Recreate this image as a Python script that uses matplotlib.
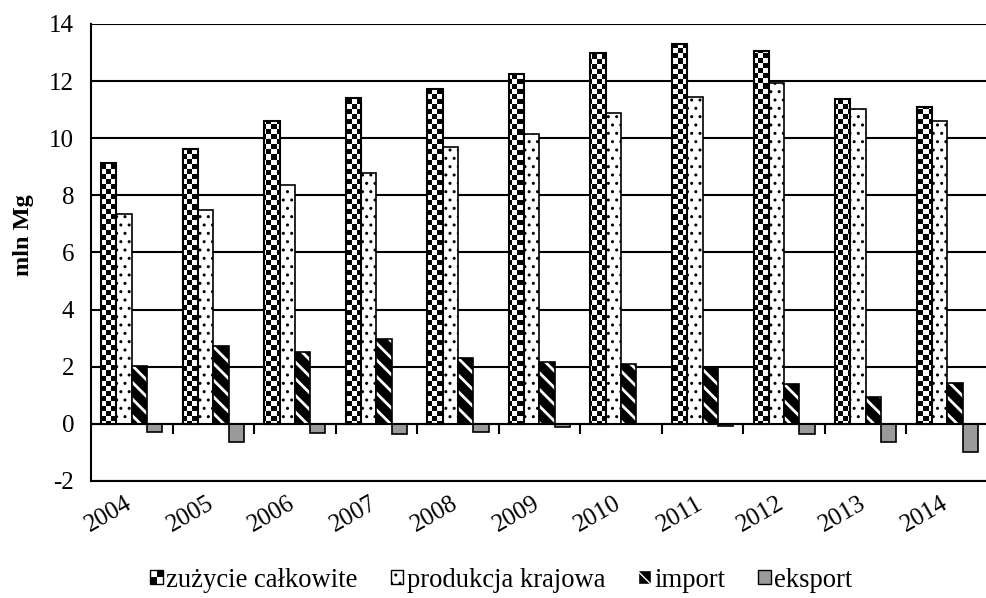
import matplotlib
matplotlib.use('Agg')
import matplotlib.pyplot as plt
import matplotlib.transforms as mtransforms
import numpy as np
from matplotlib.patches import Rectangle
from matplotlib.legend_handler import HandlerBase

plt.rcParams['font.family'] = ['Liberation Serif', 'DejaVu Serif']
plt.rcParams['font.size'] = 18
plt.rcParams['axes.unicode_minus'] = False

# dane (mln Mg)
years = ['2004', '2005', '2006', '2007', '2008', '2009', '2010', '2011', '2012', '2013', '2014']
zuzycie = [9.15, 9.61, 10.60, 11.42, 11.72, 12.25, 13.00, 13.31, 13.06, 11.38, 11.10]
produkcja = [7.36, 7.47, 8.37, 8.79, 9.71, 10.16, 10.87, 11.46, 11.95, 11.01, 10.62]
import_ = [2.03, 2.74, 2.53, 2.96, 2.29, 2.18, 2.11, 1.97, 1.41, 0.93, 1.44]
eksport = [-0.27, -0.64, -0.33, -0.36, -0.29, -0.10, -0.02, -0.07, -0.36, -0.64, -0.99]
labels = ['zużycie całkowite', 'produkcja krajowa', 'import', 'eksport']

fig = plt.figure(figsize=(9.87, 5.98), dpi=100)
ax = fig.add_axes([0.0922, 0.1957, 0.9088, 0.7642])

x = np.arange(len(years))
w = 0.1875
xmin, xmax, ymin, ymax = -0.5, len(years) - 0.5, -2, 14

# siatka
ax.set_yticks(np.arange(-2, 15, 2))
ax.yaxis.grid(True, color='black', linewidth=1.5)
ax.set_axisbelow(True)

# zuzycie - szachownica (obrazek przyciety do slupka)
b1 = ax.bar(x - 1.5 * w, zuzycie, w, facecolor='white', edgecolor='black', linewidth=1.2, zorder=2)
cell = 5
nx = int(897 / cell)
ny = int(457 / cell)
iy, ix = np.indices((ny, nx))
checker = (iy + ix) % 2
for r in b1:
    im = ax.imshow(checker, cmap='gray', extent=(xmin, xmax, ymin, ymax), aspect='auto',
                   interpolation='nearest', zorder=3)
    im.set_clip_path(r)
ax.bar(x - 1.5 * w, zuzycie, w, fill=False, edgecolor='black', linewidth=1.5, zorder=4)

# produkcja - kropki
with plt.rc_context({'hatch.linewidth': 1.0}):
    ax.bar(x - 0.5 * w, produkcja, w, facecolor='white', edgecolor='black', hatch='..',
           linewidth=1.2, zorder=3)

# import - ukosne paski
with plt.rc_context({'hatch.linewidth': 2.0}):
    ax.bar(x + 0.5 * w, import_, w, facecolor='black', edgecolor='white', hatch='\\\\',
           linewidth=0, zorder=3)
ax.bar(x + 0.5 * w, import_, w, fill=False, edgecolor='black', linewidth=1.2, zorder=4)

# eksport
ax.bar(x + 1.5 * w, eksport, w, facecolor='#9a9a9a', edgecolor='black', linewidth=1.2, zorder=3)

ax.set_xlim(xmin, xmax)
ax.set_ylim(ymin, ymax)

# os kategorii na poziomie 0
ax.axhline(0, color='black', linewidth=1.5, zorder=5)
sec = ax.secondary_xaxis(0, transform=ax.transData)
sec.set_xticks(x[:-1] + 0.5)
sec.set_xticklabels([])
sec.tick_params(direction='out', length=7, width=1.5, color='black')
sec.spines['bottom'].set_visible(False)

ax.set_xticks(x)
ax.set_xticklabels(years, rotation=30, ha='right', rotation_mode='anchor')
ax.tick_params(axis='x', length=0, pad=11)
ax.tick_params(axis='y', length=0, pad=12)
shift = mtransforms.ScaledTranslation(-0.07, 0.035, fig.dpi_scale_trans)
for lab in ax.get_xticklabels():
    lab.set_transform(lab.get_transform() + shift)

for s in ['top', 'right']:
    ax.spines[s].set_visible(False)
ax.spines['left'].set_linewidth(1.5)
ax.spines['bottom'].set_linewidth(1.5)

ax.set_ylabel('mln Mg', fontweight='bold', fontsize=17.5)
ax.yaxis.set_label_coords(-0.064, 0.538)


class HandlerChecker(HandlerBase):
    def create_artists(self, legend, orig_handle, xdescent, ydescent, width, height, fontsize, trans):
        arts = [Rectangle((-xdescent, -ydescent), width, height, facecolor='white',
                          edgecolor='black', linewidth=1, transform=trans)]
        for i in range(2):
            for j in range(2):
                if (i + j) % 2 == 0:
                    arts.append(Rectangle((-xdescent + i * width / 2, -ydescent + j * height / 2),
                                          width / 2, height / 2, facecolor='black',
                                          linewidth=0, transform=trans))
        return arts


h1 = Rectangle((0, 0), 1, 1, facecolor='white', edgecolor='black')
h2 = Rectangle((0, 0), 1, 1, facecolor='white', edgecolor='black', hatch='..')
h3 = Rectangle((0, 0), 1, 1, facecolor='black', edgecolor='white', hatch='\\')
h4 = Rectangle((0, 0), 1, 1, facecolor='#9a9a9a', edgecolor='black')
fig.legend([h1, h2, h3, h4], labels, loc='center', bbox_to_anchor=(0.508, 0.03),
           ncol=4, frameon=False, fontsize=19.2, handlelength=0.47, handleheight=0.47,
           handletextpad=0.12, columnspacing=1.25, borderaxespad=0, borderpad=0,
           handler_map={h1: HandlerChecker()})

fig.savefig('out.png', dpi=100)
